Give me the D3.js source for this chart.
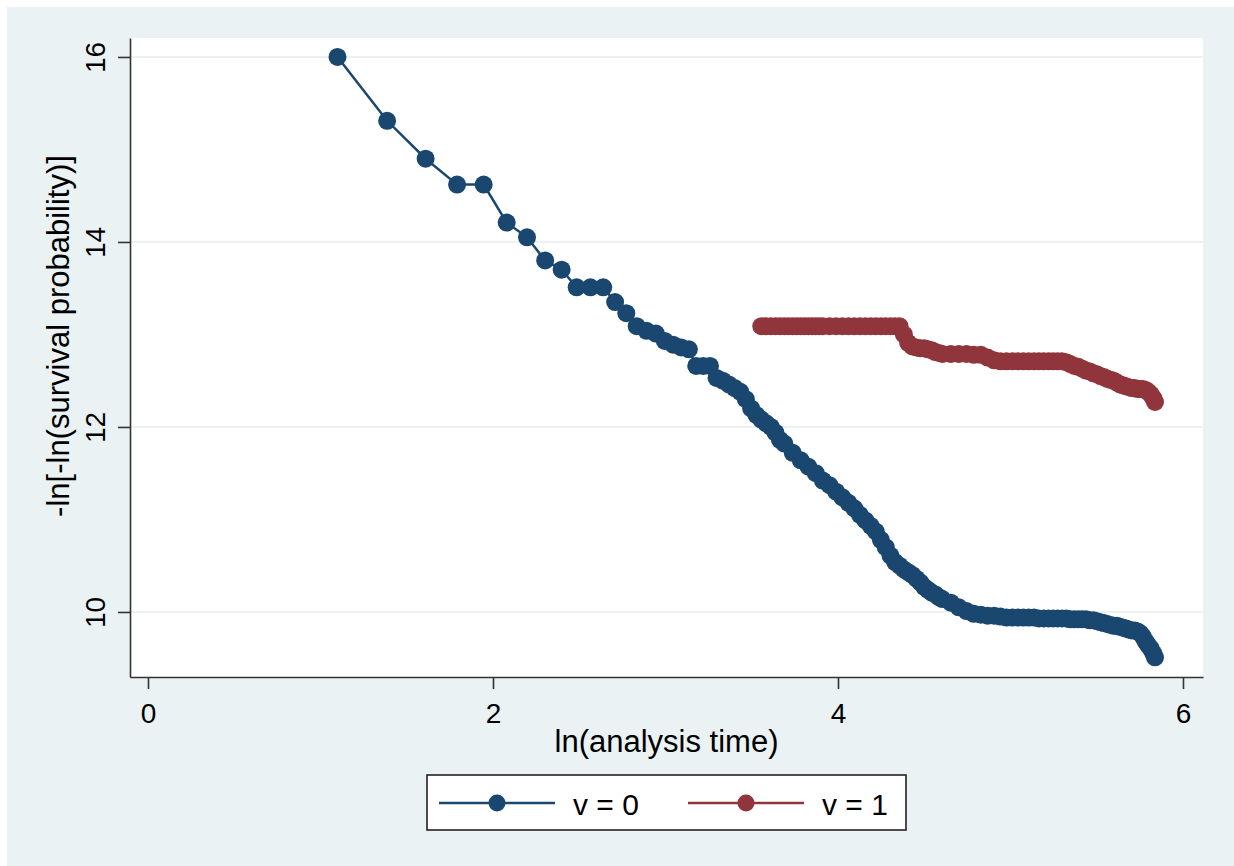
<!DOCTYPE html>
<html>
<head>
<meta charset="utf-8">
<script src="https://cdn.jsdelivr.net/npm/d3@7"></script>
<style>
  html, body { margin: 0; padding: 0; background: #ffffff; }
  svg { display: block; font-family: "Liberation Sans", Arial, sans-serif; }
</style>
</head>
<body>
<svg id="chart" width="1234" height="866"></svg>
<script>
// Analysis times (days) and -ln[-ln(S(t))] for group v = 0
const v0Time = [3,4,5,6,7,8,9,10,11,12,13,14,15,16,17,18,19,20,21,22,23,24,25,26,27,28,29,30,
  31,32,33,34,35,36,37,38,39,40,42,44,46,48,50,52,54,56,58,60,62,64,66,68,70,72,74,76,78,80,
  82,84,86,88,90,92,94,96,98,100,105,110,115,120,125,130,135,140,145,150,155,160,165,170,175,
  180,185,190,195,200,205,210,215,220,225,230,235,240,245,250,255,260,265,270,275,280,285,290,
  295,300,305,310,315,320,325,330,335,340,343];
const v0Value = [16.00,15.31,14.90,14.62,14.62,14.21,14.05,13.80,13.70,13.51,13.51,13.51,13.35,
  13.23,13.09,13.04,13.01,12.93,12.89,12.86,12.84,12.66,12.66,12.66,12.53,12.50,12.46,12.42,
  12.38,12.30,12.20,12.13,12.08,12.04,12.00,11.94,11.86,11.82,11.72,11.64,11.57,11.50,11.42,
  11.37,11.30,11.24,11.18,11.12,11.05,10.99,10.93,10.87,10.78,10.70,10.61,10.54,10.50,10.46,
  10.43,10.40,10.36,10.32,10.27,10.24,10.21,10.19,10.16,10.14,10.10,10.05,10.01,9.98,9.97,
  9.96,9.96,9.95,9.94,9.94,9.94,9.94,9.94,9.94,9.93,9.93,9.93,9.93,9.93,9.93,9.93,9.92,9.92,
  9.92,9.92,9.92,9.91,9.91,9.90,9.89,9.88,9.87,9.86,9.85,9.85,9.84,9.83,9.82,9.81,9.80,9.80,
  9.79,9.77,9.73,9.68,9.64,9.60,9.55,9.51];

// Analysis times (days) and -ln[-ln(S(t))] for group v = 1
const v1Time = [35,36,37,38,39,40,41,42,43,44,45,46,47,48,49,50,52,54,56,58,60,62,64,66,68,70,
  72,74,76,78,80,82,84,86,88,90,92,94,96,98,100,105,110,115,120,125,130,135,140,145,150,155,
  160,165,170,175,180,185,190,195,200,205,210,215,220,225,230,235,240,245,250,255,260,265,
  270,275,280,285,290,295,300,305,310,315,320,325,330,335,340,343];
const v1Value = [13.09,13.09,13.09,13.09,13.09,13.09,13.09,13.09,13.09,13.09,13.09,13.09,13.09,
  13.09,13.09,13.09,13.09,13.09,13.09,13.09,13.09,13.09,13.09,13.09,13.09,13.09,13.09,13.09,
  13.09,13.09,13.00,12.91,12.87,12.86,12.85,12.85,12.84,12.83,12.81,12.80,12.79,12.79,12.79,
  12.79,12.78,12.78,12.75,12.72,12.71,12.71,12.71,12.71,12.71,12.71,12.71,12.71,12.71,12.71,
  12.71,12.71,12.71,12.70,12.68,12.66,12.65,12.63,12.61,12.60,12.58,12.57,12.55,12.54,12.52,
  12.51,12.50,12.48,12.46,12.45,12.44,12.43,12.42,12.42,12.41,12.41,12.41,12.40,12.38,12.35,
  12.31,12.27];

const xTicks = [0, 2, 4, 6];
const yTicks = [10, 12, 14, 16];
const seriesNames = ["v = 0", "v = 1"];
const seriesColors = ["#1a476f", "#90353b"];

const svg = d3.select("#chart");
const W = 1234, H = 866;

// Graph background
svg.append("rect").attr("x", 7).attr("y", 7).attr("width", W - 7).attr("height", H - 7)
  .attr("fill", "#eaf2f3");

const plot = { left: 130, right: 1203, top: 38, bottom: 677 };

svg.append("rect")
  .attr("x", plot.left).attr("y", plot.top)
  .attr("width", plot.right - plot.left).attr("height", plot.bottom - plot.top)
  .attr("fill", "#ffffff");

const x = d3.scaleLinear().domain([-0.1043, 6.116]).range([plot.left, plot.right]);
const y = d3.scaleLinear().domain([9.297, 16.205]).range([plot.bottom, plot.top]);

// Horizontal grid lines
svg.append("g").selectAll("line").data(yTicks).join("line")
  .attr("x1", plot.left).attr("x2", plot.right)
  .attr("y1", d => y(d)).attr("y2", d => y(d))
  .attr("stroke", "#eaf2f3").attr("stroke-width", 2);

// Series: connected markers
const series = [
  { t: v0Time, v: v0Value, color: seriesColors[0] },
  { t: v1Time, v: v1Value, color: seriesColors[1] }
];
const line = d3.line().x(d => x(d[0])).y(d => y(d[1]));
series.forEach(s => {
  const pts = s.t.map((t, i) => [Math.log(t), s.v[i]]);
  const g = svg.append("g");
  g.append("path").datum(pts).attr("d", line)
    .attr("fill", "none").attr("stroke", s.color).attr("stroke-width", 2.5);
  g.selectAll("circle").data(pts).join("circle")
    .attr("cx", d => x(d[0])).attr("cy", d => y(d[1])).attr("r", 9)
    .attr("fill", s.color);
});

// Axes
const axisColor = "#333333";
const fmt = d3.format("d");
const yAxis = svg.append("g").attr("transform", `translate(${plot.left},0)`)
  .call(d3.axisLeft(y).tickValues(yTicks).tickFormat(fmt).tickSize(12).tickSizeOuter(0));
yAxis.select(".domain").attr("stroke", axisColor).attr("stroke-width", 1.6);
yAxis.selectAll(".tick line").attr("stroke", axisColor).attr("stroke-width", 1.6);
yAxis.selectAll(".tick text")
  .attr("transform", "rotate(-90)")
  .attr("x", 0).attr("y", -25).attr("dy", 0)
  .attr("text-anchor", "middle")
  .attr("font-size", 28).attr("fill", "#000");

const xAxis = svg.append("g").attr("transform", `translate(0,${plot.bottom})`)
  .call(d3.axisBottom(x).tickValues(xTicks).tickFormat(fmt).tickSize(12).tickSizeOuter(0));
xAxis.select(".domain").attr("stroke", axisColor).attr("stroke-width", 1.6);
xAxis.selectAll(".tick line").attr("stroke", axisColor).attr("stroke-width", 1.6);
xAxis.selectAll(".tick text")
  .attr("y", 46).attr("dy", 0)
  .attr("font-size", 28).attr("fill", "#000");

// Axis titles
svg.append("text")
  .attr("x", (plot.left + plot.right) / 2).attr("y", 752)
  .attr("text-anchor", "middle").attr("font-size", 31).attr("fill", "#000")
  .text("ln(analysis time)");
svg.append("text")
  .attr("transform", "translate(69,336) rotate(-90)")
  .attr("text-anchor", "middle").attr("font-size", 31).attr("fill", "#000")
  .text("-ln[-ln(survival probability)]");

// Legend
const legend = svg.append("g");
legend.append("rect").attr("x", 427).attr("y", 775).attr("width", 479).attr("height", 55)
  .attr("fill", "#ffffff").attr("stroke", "#222").attr("stroke-width", 1.6);
const legendItems = [
  { x0: 439, x1: 555, tx: 573 },
  { x0: 688, x1: 804, tx: 822 }
];
legendItems.forEach((it, i) => {
  legend.append("line").attr("x1", it.x0).attr("x2", it.x1).attr("y1", 803).attr("y2", 803)
    .attr("stroke", seriesColors[i]).attr("stroke-width", 2.5);
  legend.append("circle").attr("cx", (it.x0 + it.x1) / 2).attr("cy", 803).attr("r", 8.5)
    .attr("fill", seriesColors[i]);
  legend.append("text").attr("x", it.tx).attr("y", 815)
    .attr("font-size", 30).attr("fill", "#000").text(seriesNames[i]);
});
</script>
</body>
</html>
